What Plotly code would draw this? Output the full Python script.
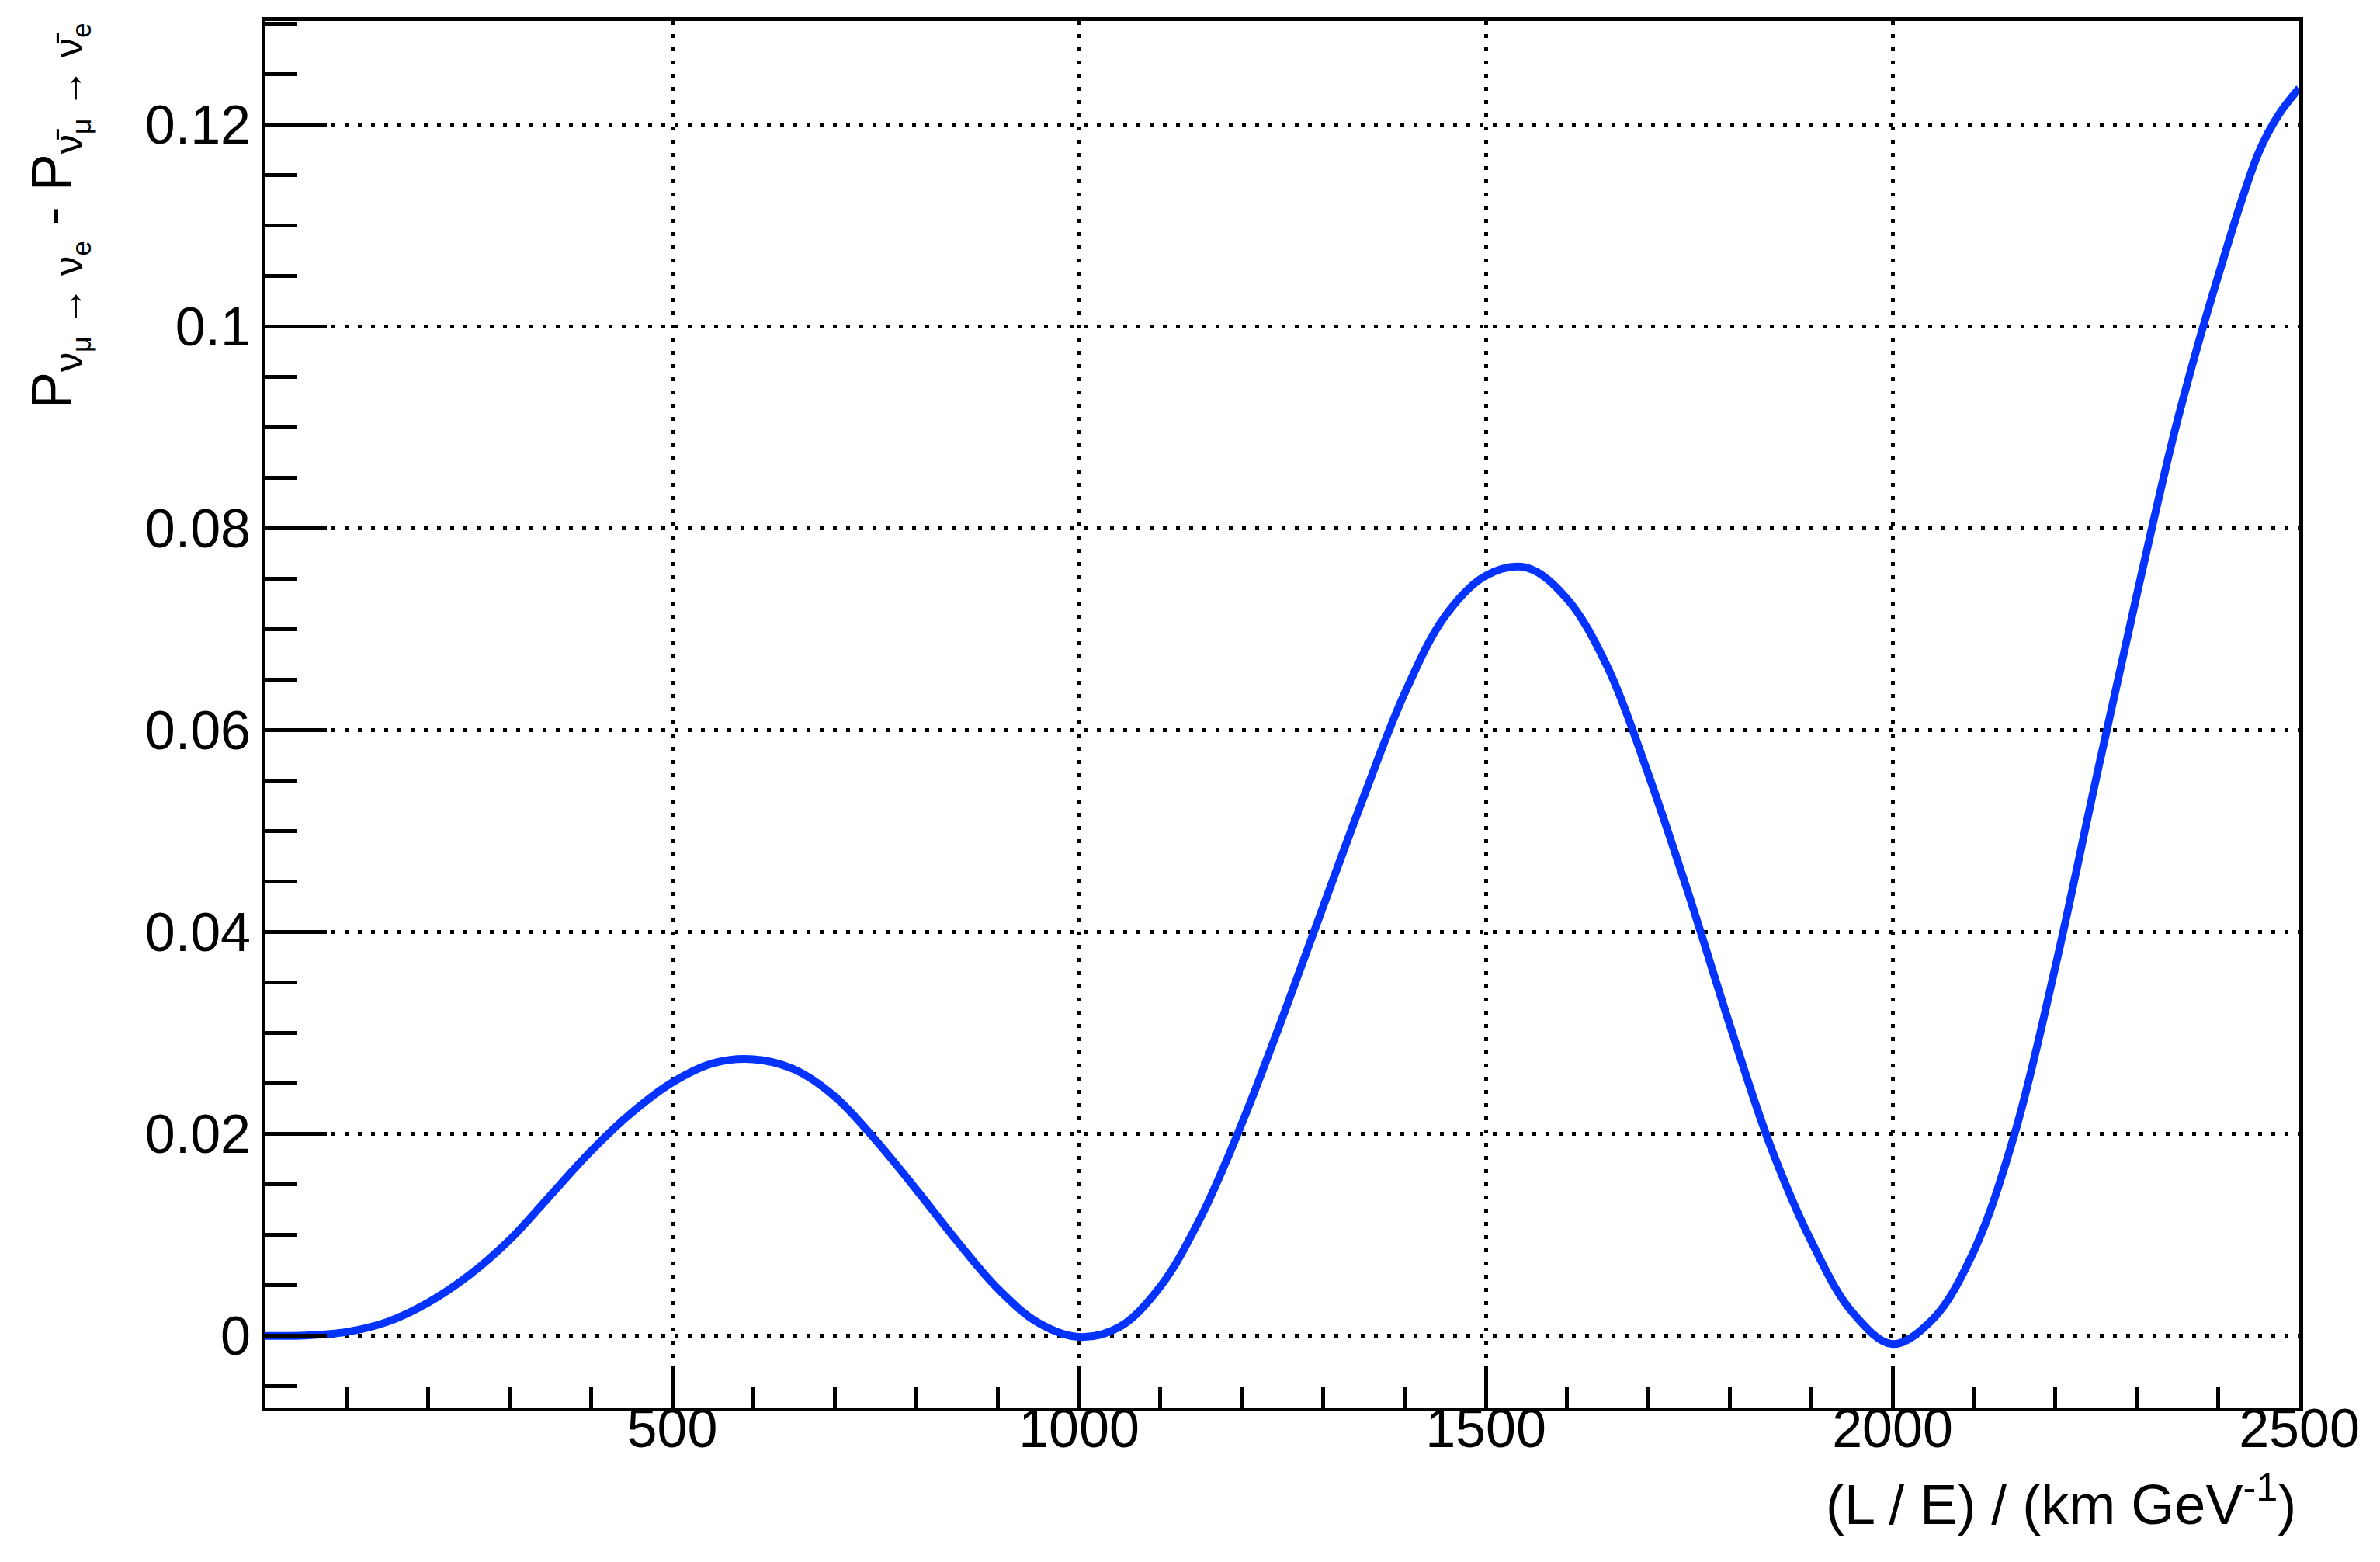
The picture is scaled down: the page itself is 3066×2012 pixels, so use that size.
import plotly.graph_objects as go

# L/E values (km/GeV) and probability difference
le_values = [0, 50, 100, 150, 200, 250, 300, 350, 400, 450, 500, 550, 600, 650, 700,
             750, 800, 850, 900, 950, 1000, 1050, 1100, 1150, 1200, 1250, 1300, 1350,
             1400, 1450, 1500, 1550, 1600, 1650, 1700, 1750, 1800, 1850, 1900, 1950,
             2000, 2050, 2100, 2150, 2200, 2250, 2300, 2350, 2400, 2450, 2475, 2500]
dp_values = [0.0, 0.00005, 0.0004, 0.0014, 0.0033, 0.0060, 0.0095, 0.0139, 0.0183,
             0.0221, 0.0251, 0.0270, 0.0274, 0.0264, 0.0237, 0.0194, 0.0145, 0.0094,
             0.0047, 0.0013, -0.0001, 0.0009, 0.0049, 0.0118, 0.0210, 0.0315, 0.0425,
             0.0534, 0.0636, 0.0713, 0.0753, 0.0761, 0.0730, 0.0662, 0.0556, 0.0436,
             0.0308, 0.0188, 0.0094, 0.0024, -0.0008, 0.0017, 0.0084, 0.0200, 0.0365,
             0.0551, 0.0733, 0.0906, 0.1049, 0.1172, 0.1210, 0.1236]

x_range = [0, 2500]
y_range = [-0.00709, 0.13025]
x_tickvals = [500, 1000, 1500, 2000, 2500]
y_tickvals = [0, 0.02, 0.04, 0.06, 0.08, 0.1, 0.12]
y_ticktext = ["0", "0.02", "0.04", "0.06", "0.08", "0.1", "0.12"]

FONT = "Liberation Sans, Arial, Helvetica, sans-serif"
FS = 70

fig = go.Figure()
fig.add_trace(go.Scatter(
    x=le_values, y=dp_values, mode="lines",
    line=dict(color="#0433ff", width=10, shape="spline", smoothing=1.0),
    hoverinfo="skip", showlegend=False,
))

grid_common = dict(
    showline=True, linecolor="black", linewidth=5, mirror=True,
    showgrid=True, gridcolor="black", gridwidth=5, griddash="5px,12px",
    ticks="inside", tickcolor="black", tickwidth=5,
    zeroline=False,
    tickfont=dict(family=FONT, size=FS, color="black"),
)

fig.update_xaxes(
    range=x_range, tickvals=x_tickvals, ticktext=[str(v) for v in x_tickvals],
    ticklen=53, ticklabelstandoff=-38,
    minor=dict(dtick=100, tick0=0, ticks="inside", ticklen=27, tickwidth=5,
               tickcolor="black", showgrid=False),
    **grid_common,
)
fig.update_yaxes(
    range=y_range, tickvals=y_tickvals, ticktext=y_ticktext,
    ticklen=79,
    minor=dict(dtick=0.005, tick0=0, ticks="inside", ticklen=40, tickwidth=5,
               tickcolor="black", showgrid=False),
    **grid_common,
)

fig.update_layout(
    width=3066, height=2012,
    margin=dict(l=342, r=104, t=27, b=199, pad=0),
    paper_bgcolor="white", plot_bgcolor="white",
    font=dict(family=FONT, size=FS, color="black"),
    annotations=[
        dict(
            text="(L / E) / (km GeV<sup>-1</sup>)",
            xref="paper", yref="paper", x=1, y=0,
            xanchor="right", yanchor="middle", xshift=-2, yshift=-119,
            showarrow=False, font=dict(family=FONT, size=72, color="black"),
        ),
        dict(
            text="P<sub>ν<sub>μ</sub> → ν<sub>e</sub></sub> - P<sub>ν̄<sub>μ</sub> → ν̄<sub>e</sub></sub>",
            xref="paper", yref="paper", x=0, y=1,
            xanchor="left", yanchor="top", xshift=-318, yshift=0,
            textangle=-90, showarrow=False,
            font=dict(family=FONT, size=72, color="black"),
        ),
    ],
)

fig.write_html(
    "out.html",
    config={"displayModeBar": False},
    post_script="document.body.style.margin='0';document.body.style.overflow='hidden';",
)
